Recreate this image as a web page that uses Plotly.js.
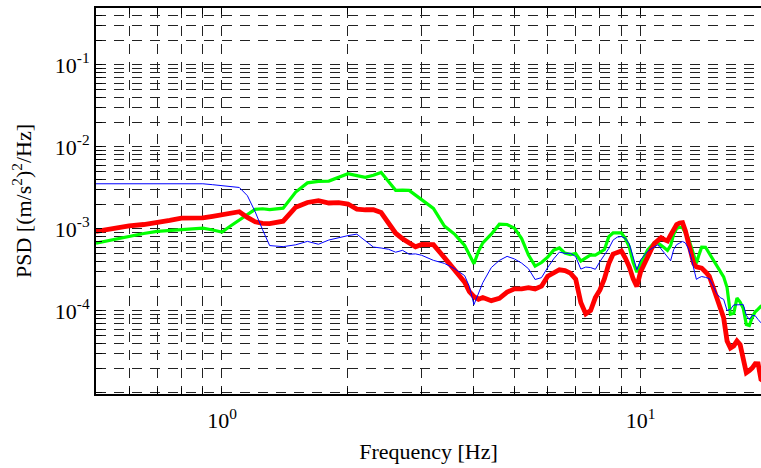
<!DOCTYPE html>
<html>
<head>
<meta charset="utf-8">
<script src="https://cdn.plot.ly/plotly-3.0.1.min.js"></script>
<style>
  html, body { margin: 0; padding: 0; background: #fff; }
  #chart { width: 761px; height: 468px; }
</style>
</head>
<body>
<div id="chart"></div>
<script>
// Frequency grid shared by the three spectra (Hz)
const freq = [
  0.5, 0.55, 0.6, 0.65, 0.7, 0.75, 0.8, 0.85, 0.9, 0.95,
  1.0, 1.05, 1.1, 1.15, 1.2, 1.25, 1.3,
  1.4, 1.5, 1.6, 1.7, 1.8, 1.9, 2.0, 2.1, 2.2, 2.3, 2.4, 2.5, 2.6, 2.7, 2.8, 2.9, 3.0,
  3.2, 3.4, 3.6, 3.8, 3.9, 4.0, 4.1,
  4.2, 4.4, 4.6, 4.8, 5.0, 5.2, 5.4, 5.6, 5.8, 6.0,
  6.2, 6.4, 6.6, 6.8, 7.0, 7.2, 7.4, 7.6, 7.8, 8.0,
  8.2, 8.4, 8.6, 8.8, 9.0, 9.2, 9.4, 9.6, 9.8, 10.0,
  10.2, 10.4, 10.6, 10.8, 11.0, 11.2, 11.4, 11.6, 11.8, 12.0,
  12.2, 12.4, 12.6, 12.8, 13.0, 13.2, 13.4, 13.6, 13.8, 14.0,
  14.3, 14.6, 14.9, 15.2, 15.5, 15.8, 16.1, 16.4, 16.7, 17.0,
  17.3, 17.6, 17.9, 18.2, 18.5, 18.8, 19.1, 19.4, 19.7
];

// PSD, thin blue spectrum
const psdBlue = [
  3.55e-3, 3.55e-3, 3.55e-3, 3.55e-3, 3.55e-3, 3.55e-3, 3.55e-3, 3.55e-3, 3.55e-3, 3.46e-3,
  3.38e-3, 3.28e-3, 3.20e-3, 2.54e-3, 1.62e-3, 9.78e-4, 6.25e-4,
  6.07e-4, 6.39e-4, 7.04e-4, 6.49e-4, 7.31e-4, 7.86e-4, 8.27e-4, 8.62e-4, 7.10e-4, 6.00e-4, 5.84e-4, 5.64e-4, 5.19e-4, 5.47e-4, 4.90e-4, 4.95e-4, 4.76e-4,
  4.13e-4, 3.79e-4, 3.25e-4, 2.69e-4, 1.98e-4, 1.19e-4, 1.64e-4,
  2.21e-4, 3.37e-4, 4.12e-4, 4.62e-4, 4.29e-4, 3.82e-4, 3.26e-4, 2.41e-4, 2.54e-4, 3.37e-4,
  4.30e-4, 5.20e-4, 5.03e-4, 5.04e-4, 4.59e-4, 3.23e-4, 3.42e-4, 3.37e-4, 3.21e-4, 3.99e-4,
  4.86e-4, 5.77e-4, 7.29e-4, 7.93e-4, 8.06e-4, 7.64e-4, 6.57e-4, 4.64e-4, 3.18e-4, 4.18e-4,
  4.76e-4, 5.32e-4, 5.69e-4, 6.07e-4, 6.39e-4, 5.69e-4, 5.09e-4, 4.53e-4, 4.08e-4, 5.58e-4,
  6.42e-4, 6.70e-4, 7.02e-4, 6.74e-4, 5.80e-4, 4.51e-4, 3.20e-4, 2.42e-4, 2.54e-4, 2.62e-4,
  2.56e-4, 2.47e-4, 2.02e-4, 1.62e-4, 1.45e-4, 1.38e-4, 1.01e-4, 1.04e-4, 1.18e-4, 1.19e-4,
  1.19e-4, 1.19e-4, 8.81e-5, 7.83e-5, 8.81e-5, 8.69e-5, 7.83e-5, 7.14e-5, 6.81e-5
];

// PSD, green spectrum
const psdGreen = [
  6.70e-4, 7.43e-4, 8.13e-4, 8.77e-4, 9.32e-4, 9.56e-4, 9.80e-4, 1.00e-3, 1.02e-3, 9.70e-4,
  9.17e-4, 1.09e-3, 1.29e-3, 1.50e-3, 1.73e-3, 1.76e-3, 1.72e-3,
  1.79e-3, 2.81e-3, 3.64e-3, 3.79e-3, 3.83e-3, 4.26e-3, 4.70e-3, 4.46e-3, 4.25e-3, 4.51e-3, 4.88e-3, 3.79e-3, 2.95e-3, 2.97e-3, 2.95e-3, 2.58e-3, 2.28e-3,
  1.78e-3, 1.08e-3, 8.57e-4, 6.28e-4, 4.82e-4, 3.75e-4, 5.31e-4,
  6.75e-4, 8.62e-4, 1.14e-3, 1.13e-3, 1.02e-3, 7.60e-4, 4.78e-4, 3.51e-4, 3.88e-4, 4.52e-4,
  5.50e-4, 5.85e-4, 5.06e-4, 4.86e-4, 4.99e-4, 4.05e-4, 4.48e-4, 4.82e-4, 4.77e-4, 5.16e-4,
  5.60e-4, 8.04e-4, 8.92e-4, 8.92e-4, 8.92e-4, 7.64e-4, 6.04e-4, 3.90e-4, 2.96e-4, 3.71e-4,
  4.57e-4, 5.55e-4, 6.14e-4, 6.79e-4, 6.74e-4, 6.35e-4, 5.87e-4, 5.46e-4, 6.25e-4, 8.57e-4,
  1.01e-3, 1.05e-3, 1.03e-3, 8.94e-4, 7.79e-4, 6.17e-4, 4.65e-4, 3.81e-4, 4.85e-4, 5.97e-4,
  5.96e-4, 5.00e-4, 4.31e-4, 3.66e-4, 3.07e-4, 2.60e-4, 1.92e-4, 9.07e-5, 9.32e-5, 1.43e-4,
  1.28e-4, 1.07e-4, 6.81e-5, 6.62e-5, 8.38e-5, 9.72e-5, 1.05e-4, 1.14e-4, 1.16e-4
];

// PSD, thick red spectrum
const psdRed = [
  9.29e-4, 1.01e-3, 1.09e-3, 1.13e-3, 1.18e-3, 1.27e-3, 1.35e-3, 1.36e-3, 1.36e-3, 1.42e-3,
  1.48e-3, 1.56e-3, 1.62e-3, 1.38e-3, 1.22e-3, 1.17e-3, 1.16e-3,
  1.24e-3, 1.84e-3, 2.10e-3, 2.21e-3, 2.07e-3, 2.09e-3, 2.01e-3, 1.74e-3, 1.71e-3, 1.71e-3, 1.58e-3, 1.14e-3, 8.84e-4, 7.58e-4, 6.75e-4, 6.04e-4, 6.46e-4,
  6.42e-4, 4.46e-4, 3.16e-4, 2.24e-4, 1.72e-4, 1.49e-4, 1.38e-4,
  1.45e-4, 1.33e-4, 1.42e-4, 1.69e-4, 1.85e-4, 1.85e-4, 1.92e-4, 1.85e-4, 2.00e-4, 2.64e-4,
  2.95e-4, 3.17e-4, 3.10e-4, 2.88e-4, 2.44e-4, 1.26e-4, 9.17e-5, 1.01e-4, 1.45e-4, 1.80e-4,
  2.47e-4, 3.77e-4, 4.93e-4, 5.23e-4, 5.37e-4, 4.40e-4, 3.44e-4, 2.47e-4, 1.98e-4, 2.97e-4,
  3.79e-4, 4.60e-4, 5.58e-4, 6.66e-4, 7.24e-4, 7.81e-4, 7.39e-4, 7.12e-4, 8.38e-4, 9.78e-4,
  1.13e-3, 1.18e-3, 1.19e-3, 9.51e-4, 7.24e-4, 5.38e-4, 3.78e-4, 3.44e-4, 3.39e-4, 3.32e-4,
  2.98e-4, 2.64e-4, 1.97e-4, 1.44e-4, 1.09e-4, 8.22e-5, 4.29e-5, 3.51e-5, 3.73e-5, 4.29e-5,
  3.87e-5, 2.73e-5, 1.76e-5, 1.87e-5, 2.01e-5, 2.26e-5, 2.25e-5, 1.46e-5, 1.38e-5
];

// Tick / grid positions and labels
const xTickVals = [0.6, 0.7, 0.8, 0.9, 1, 2, 3, 4, 5, 6, 7, 8, 9, 10];
const xTickText = ['', '', '', '', '10<sup>0</sup>', '', '', '', '', '', '', '', '', '10<sup>1</sup>'];
const yDecades = [1e-5, 1e-4, 1e-3, 1e-2, 1e-1];
const yDecadeText = ['', '10<sup>-4</sup>', '10<sup>-3</sup>', '10<sup>-2</sup>', '10<sup>-1</sup>'];

// every 1..9 x 10^n line up to the top of the axis, labelled only at decades
const yTickVals = [];
const yTickText = [];
yDecades.forEach((d, i) => {
  for (let m = 1; m <= 9; m++) {
    const v = m * d;
    if (v > 0.5) break;
    yTickVals.push(v);
    yTickText.push(m === 1 ? yDecadeText[i] : '');
  }
});

const serif = 'Liberation Serif';
const gridDash = '10px,8px';

const traces = [
  { x: freq, y: psdGreen, mode: 'lines', name: 'green', line: { color: '#00ff00', width: 3.2 }, hoverinfo: 'x+y' },
  { x: freq, y: psdRed, mode: 'lines', name: 'red', line: { color: '#ff0000', width: 4.8 }, hoverinfo: 'x+y' },
  { x: freq, y: psdBlue, mode: 'lines', name: 'blue', line: { color: '#0000ff', width: 1 }, hoverinfo: 'x+y' }
];

const layout = {
  width: 761,
  height: 468,
  margin: { l: 96, r: 0, t: 8, b: 74 },
  paper_bgcolor: '#fff',
  plot_bgcolor: '#fff',
  showlegend: false,
  font: { family: serif, color: '#000', size: 21 },
  xaxis: {
    type: 'log',
    range: [Math.log10(0.5), 1.2879],
    tickmode: 'array',
    tickvals: xTickVals,
    ticktext: xTickText,
    ticks: 'inside',
    ticklen: 6,
    tickwidth: 1,
    tickcolor: '#000',
    ticklabelstandoff: 6,
    showline: true,
    linewidth: 2,
    linecolor: '#000',
    mirror: 'ticks',
    showgrid: true,
    gridcolor: '#222',
    gridwidth: 1,
    griddash: gridDash,
    zeroline: false,
    tickfont: { family: serif, size: 22, color: '#000' },
    title: { text: 'Frequency [Hz]', font: { family: serif, size: 22, color: '#000' }, standoff: 11 }
  },
  yaxis: {
    type: 'log',
    range: [-5.015, -0.305],
    tickmode: 'array',
    tickvals: yTickVals,
    ticktext: yTickText,
    ticks: 'inside',
    ticklen: 6,
    tickwidth: 1,
    tickcolor: '#000',
    showline: true,
    linewidth: 2,
    linecolor: '#000',
    showgrid: true,
    gridcolor: '#222',
    gridwidth: 1,
    griddash: gridDash,
    zeroline: false,
    tickfont: { family: serif, size: 22, color: '#000' },
    title: { text: 'PSD [(m/s<sup>2</sup>)<sup>2</sup>/Hz]', font: { family: serif, size: 22, color: '#000' }, standoff: 17 }
  }
};

Plotly.newPlot('chart', traces, layout, { displayModeBar: false, staticPlot: true });
</script>
</body>
</html>
